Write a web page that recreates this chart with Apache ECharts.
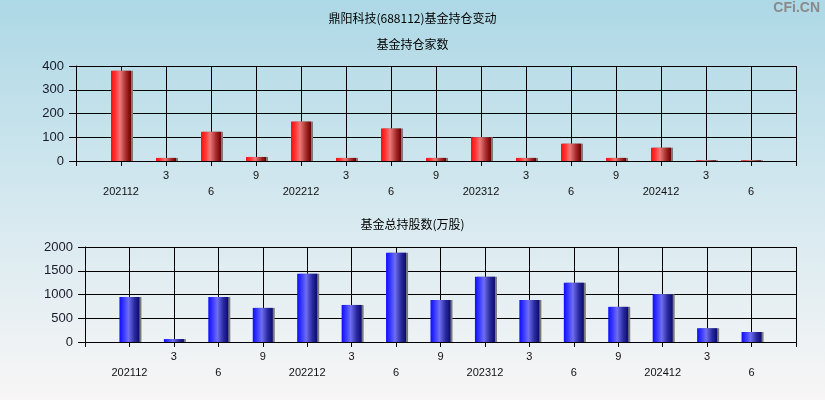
<!DOCTYPE html>
<html>
<head>
<meta charset="utf-8">
<script src="https://cdn.jsdelivr.net/npm/echarts@6/dist/echarts.min.js"></script>
<style>
html,body{margin:0;padding:0;}
#main{width:825px;height:400px;}
</style>
</head>
<body>
<div id="main"></div>
<script>
var categories = ['', '202112', '3', '6', '9', '202212', '3', '6', '9', '202312', '3', '6', '9', '202412', '3', '6', ''];
var fundCount = [null, 380, 13, 123, 17, 166, 13, 137, 13, 100, 13, 73, 13, 56, 3, 3, null];
var fundShares = [null, 950, 62, 950, 718, 1437, 780, 1880, 885, 1372, 885, 1248, 740, 1003, 290, 210, null];
var countTicks = [0, 100, 200, 300, 400];
var shareTicks = [0, 500, 1000, 1500, 2000];

var chart = echarts.init(document.getElementById('main'));
var font = 'Liberation Sans, Arial, sans-serif';
var cjk = 'Noto Sans CJK SC, sans-serif';

function xAxisFor(gridIndex) {
  return {
    type: 'category', gridIndex: gridIndex, data: categories, boundaryGap: false,
    axisLine: {lineStyle: {color: '#000', width: 1}},
    axisTick: {show: true, interval: 0, length: 5, lineStyle: {color: '#000'}},
    splitLine: {show: true, interval: 0, lineStyle: {color: '#000', width: 1}},
    axisLabel: {
      interval: 0, margin: 7, color: '#111', fontSize: 11, fontFamily: font, lineHeight: 16,
      formatter: function (v, i) { return (i % 2 === 1) ? '\n' + v : v; }
    }
  };
}
function yAxisFor(gridIndex, ticks) {
  return {
    type: 'value', gridIndex: gridIndex, min: ticks[0], max: ticks[ticks.length - 1],
    interval: ticks[1] - ticks[0],
    axisLine: {show: true, lineStyle: {color: '#000', width: 1}},
    axisTick: {show: true, length: 7, lineStyle: {color: '#000'}},
    splitLine: {show: true, lineStyle: {color: '#000', width: 1}},
    axisLabel: {margin: 12, color: '#1a1a2a', fontSize: 13, fontFamily: font,
      formatter: function (v) { return String(v); }}
  };
}
function grad(stops) {
  return new echarts.graphic.LinearGradient(0, 0, 1, 0, stops.map(function (s) { return {offset: s[0], color: s[1]}; }));
}

chart.setOption({
  animation: false,
  graphic: [{
    type: 'rect', z: -10, silent: true,
    shape: {x: 0, y: 0, width: 825, height: 400},
    style: {fill: new echarts.graphic.LinearGradient(0, 0, 0, 1, [
      {offset: 0, color: '#add8e6'}, {offset: 0.5, color: '#d4e8ef'}, {offset: 1, color: '#f8f6f6'}
    ])}
  }, {
    type: 'text', right: 5, top: 1, silent: true,
    style: {text: 'CFi.CN', fill: '#8a8a8a', font: 'bold 14px ' + font}
  }],
  title: [
    {text: '鼎阳科技(688112)基金持仓变动', left: 'center', top: 7,
     textStyle: {fontSize: 12, fontWeight: 'normal', color: '#000', fontFamily: cjk}},
    {text: '基金持仓家数', left: 'center', top: 33,
     textStyle: {fontSize: 12, fontWeight: 'normal', color: '#000', fontFamily: cjk}},
    {text: '基金总持股数(万股)', left: 'center', top: 213,
     textStyle: {fontSize: 12, fontWeight: 'normal', color: '#000', fontFamily: cjk}}
  ],
  grid: [
    {left: 76, right: 29, top: 66, height: 95, containLabel: false},
    {left: 85, right: 29, top: 247, height: 95, containLabel: false}
  ],
  xAxis: [xAxisFor(0), xAxisFor(1)],
  yAxis: [yAxisFor(0, countTicks), yAxisFor(1, shareTicks)],
  series: [{
    type: 'bar', xAxisIndex: 0, yAxisIndex: 0, data: fundCount, barWidth: 20,
    itemStyle: {
      color: grad([[0, '#ff0c0c'], [0.25, '#ff3a3a'], [0.45, '#ec7a7a'], [0.75, '#a82a2a'], [1, '#6a0000']]),
      shadowColor: '#7a7a7a', shadowOffsetX: 2, shadowBlur: 0
    }
  }, {
    type: 'bar', xAxisIndex: 1, yAxisIndex: 1, data: fundShares, barWidth: 20,
    itemStyle: {
      color: grad([[0, '#0c0cff'], [0.25, '#4040ff'], [0.45, '#6e6ef0'], [0.75, '#2a2aa0'], [1, '#0a0a70']]),
      shadowColor: '#7a7a7a', shadowOffsetX: 2, shadowBlur: 0
    }
  }]
});
</script>
</body>
</html>
